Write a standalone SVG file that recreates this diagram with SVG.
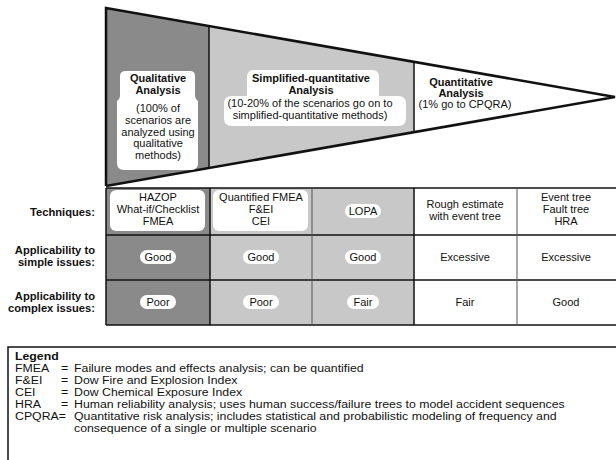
<svg xmlns="http://www.w3.org/2000/svg" width="616" height="460" viewBox="0 0 616 460">
<style>
.t{font-family:"Liberation Sans",Arial,sans-serif;font-size:11px;fill:#111;text-anchor:middle}
.b{font-weight:bold}
.lbl{font-family:"Liberation Sans",Arial,sans-serif;font-size:11.2px;font-weight:bold;fill:#111;text-anchor:end}
.lg{font-family:"Liberation Sans",Arial,sans-serif;font-size:11px;fill:#111}
.dark{fill:#8a8a8a}
.light{fill:#c8c8c8}
.wb{fill:#fff;stroke:none}
.edge{fill:none;stroke:#111;stroke-width:2.5;stroke-linejoin:miter}
.grid{fill:none;stroke:#111;stroke-width:1.5}
.thin{fill:none;stroke:#555;stroke-width:1}
</style>
<rect width="616" height="460" fill="#fff"/>

<g id="funnel">
<polygon class="dark" points="106,8 209,26 209,168 106,186"/>
<polygon class="light" points="209,26 414,62 414,132 209,168"/>
<polygon fill="#fff" points="414,62 615,97 414,132"/>
<path class="edge" d="M106 186 V8 L615 97 L106 186"/>
<line class="grid" x1="209" y1="26" x2="209" y2="168" stroke-width="2"/>
<line class="grid" x1="414" y1="62" x2="414" y2="132" stroke-width="2"/>
</g>

<g id="qualitative">
<path class="wb" d="M126 71 H190 Q195 71 195 76 V96 Q195 99 198 101 V163 Q198 170 191 170 H124 Q117 170 117 163 V101 Q120 99 120 96 V76 Q120 71 126 71 Z"/>
<text class="t b" x="158" y="82">Qualitative</text>
<text class="t b" x="158" y="94">Analysis</text>
<text class="t" x="158" y="112">(100% of</text>
<text class="t" x="158" y="124">scenarios are</text>
<text class="t" x="158" y="136">analyzed using</text>
<text class="t" x="158" y="147">qualitative</text>
<text class="t" x="158" y="159">methods)</text>
</g>

<g id="simplified">
<path class="wb" d="M254 70 H372 Q379 70 379 77 V96 H398 Q406 96 406 104 V118 Q406 126 398 126 H232 Q224 126 224 118 V104 Q224 96 232 96 H247 V77 Q247 70 254 70 Z"/>
<text class="t b" x="311" y="82">Simplified-quantitative</text>
<text class="t b" x="311" y="94">Analysis</text>
<text class="t" x="310" y="107">(10-20% of the scenarios go on to</text>
<text class="t" x="310" y="119">simplified-quantitative methods)</text>
</g>

<g id="quantitative">
<text class="t b" x="461" y="86">Quantitative</text>
<text class="t b" x="461" y="97">Analysis</text>
<text class="t" x="465" y="108">(1% go to CPQRA)</text>
</g>

<g id="table">
<rect class="dark" x="106" y="188" width="104" height="137"/>
<rect class="light" x="210" y="188" width="204" height="137"/>
<rect class="wb" x="110" y="190" width="95" height="41" rx="6"/>
<rect class="wb" x="213" y="190" width="95" height="41" rx="6"/>
<rect class="wb" x="345" y="204" width="36" height="14" rx="7"/>
<rect class="wb" x="140" y="250" width="36" height="14" rx="7"/>
<rect class="wb" x="243" y="250" width="36" height="14" rx="7"/>
<rect class="wb" x="345" y="250" width="36" height="14" rx="7"/>
<rect class="wb" x="140" y="295" width="36" height="14" rx="7"/>
<rect class="wb" x="243" y="295" width="36" height="14" rx="7"/>
<rect class="wb" x="347" y="295" width="32" height="14" rx="7"/>
<line class="grid" x1="106" y1="188" x2="616" y2="188" stroke-width="2.5"/>
<line class="grid" x1="106" y1="235" x2="616" y2="235"/>
<line class="grid" x1="106" y1="280" x2="616" y2="280"/>
<line class="grid" x1="106" y1="325" x2="616" y2="325" stroke-width="2.5"/>
<line class="grid" x1="106" y1="188" x2="106" y2="325" stroke-width="2.5"/>
<line class="grid" x1="210" y1="188" x2="210" y2="325" stroke-width="2"/>
<line class="thin" x1="312" y1="188" x2="312" y2="325"/>
<line class="grid" x1="414" y1="188" x2="414" y2="325" stroke-width="2"/>
<line class="thin" x1="517" y1="188" x2="517" y2="325"/>
</g>

<g id="row-labels">
<text class="lbl" x="95" y="216" font-weight="normal" font-size="12.5">Techniques:</text>
<text class="lbl" x="95" y="254">Applicability to</text>
<text class="lbl" x="95" y="266">simple issues:</text>
<text class="lbl" x="95" y="300">Applicability to</text>
<text class="lbl" x="95" y="312">complex issues:</text>
</g>

<g id="cells">
<text class="t" x="158" y="201">HAZOP</text>
<text class="t" x="158" y="213">What-if/Checklist</text>
<text class="t" x="158" y="225">FMEA</text>
<text class="t" x="261" y="201">Quantified FMEA</text>
<text class="t" x="261" y="213">F&amp;EI</text>
<text class="t" x="261" y="225">CEI</text>
<text class="t" x="363" y="215">LOPA</text>
<text class="t" x="465" y="208">Rough estimate</text>
<text class="t" x="465" y="220">with event tree</text>
<text class="t" x="566" y="201">Event tree</text>
<text class="t" x="566" y="213">Fault tree</text>
<text class="t" x="566" y="225">HRA</text>
<text class="t" x="158" y="261">Good</text>
<text class="t" x="261" y="261">Good</text>
<text class="t" x="363" y="261">Good</text>
<text class="t" x="465" y="261">Excessive</text>
<text class="t" x="566" y="261">Excessive</text>
<text class="t" x="158" y="306">Poor</text>
<text class="t" x="261" y="306">Poor</text>
<text class="t" x="363" y="306">Fair</text>
<text class="t" x="465" y="306">Fair</text>
<text class="t" x="566" y="306">Good</text>
</g>

<g id="legend">
<rect x="8" y="347" width="640" height="130" fill="#fff" stroke="#111" stroke-width="1.5"/>
<g transform="matrix(1.12 0 0 1 0 0)">
<text class="lg b" x="13.4" y="360">Legend</text>
<text class="lg" x="13.4" y="372">FMEA</text><text class="lg" x="54.5" y="372">=</text><text class="lg" x="66.1" y="372">Failure modes and effects analysis; can be quantified</text>
<text class="lg" x="13.4" y="384">F&amp;EI</text><text class="lg" x="54.5" y="384">=</text><text class="lg" x="66.1" y="384">Dow Fire and Explosion Index</text>
<text class="lg" x="13.4" y="396">CEI</text><text class="lg" x="54.5" y="396">=</text><text class="lg" x="66.1" y="396">Dow Chemical Exposure Index</text>
<text class="lg" x="13.4" y="408">HRA</text><text class="lg" x="54.5" y="408">=</text><text class="lg" x="66.1" y="408">Human reliability analysis; uses human success/failure trees to model accident sequences</text>
<text class="lg" x="13.4" y="420">CPQRA=</text><text class="lg" x="66.1" y="420">Quantitative risk analysis; includes statistical and probabilistic modeling of frequency and</text>
<text class="lg" x="66.1" y="432">consequence of a single or multiple scenario</text>
</g>
</g>
</svg>
